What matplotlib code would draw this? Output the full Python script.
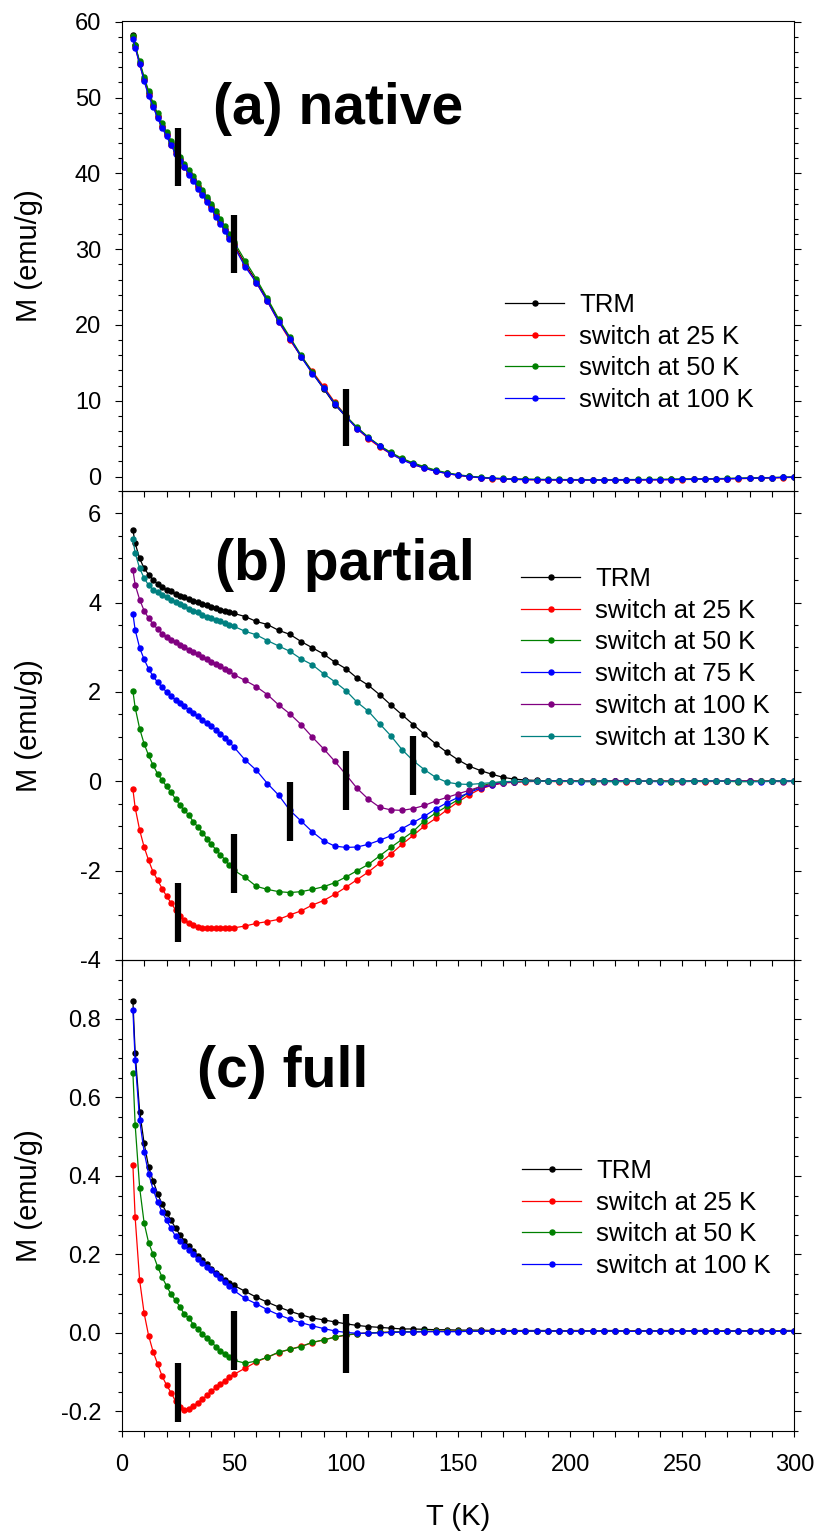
import numpy as np
import matplotlib.pyplot as plt
from matplotlib.ticker import MultipleLocator, FormatStrFormatter

plt.rcParams['font.family'] = ['Liberation Sans', 'DejaVu Sans']
plt.rcParams['axes.unicode_minus'] = False

# temperature grid (K)
T = [5, 6, 8, 10, 12, 14, 16, 18, 20, 22, 24, 26, 28, 30, 32, 34, 36, 38, 40, 42, 44, 46, 48, 50,
     55, 60, 65, 70, 75, 80, 85, 90, 95, 100, 105, 110, 115, 120, 125, 130, 135, 140, 145, 150,
     155, 160, 165, 170,
     175, 180, 185, 190, 195, 200, 205, 210, 215, 220, 225, 230, 235, 240, 245, 250, 255, 260,
     265, 270, 275, 280, 285, 290, 295, 300]

# ---- (a) native ----
a_trm = [58.3, 56.9, 54.6, 52.5, 50.6, 49.0, 47.6, 46.3, 45.2, 44.0, 42.9, 41.9, 41.0, 40.1, 39.3, 38.4, 37.5, 36.6, 35.7, 34.7, 33.7, 32.7, 31.7, 30.7,
         28.1, 25.8, 23.3, 20.6, 18.2, 15.8, 13.7, 11.6, 9.5, 7.9, 6.4, 5.1, 4.0, 3.1, 2.3, 1.7, 1.2, 0.78, 0.45, 0.2, 0.02, -0.12, -0.22, -0.29,
         -0.34, -0.37, -0.39, -0.41, -0.42, -0.43, -0.43, -0.44, -0.43, -0.43, -0.42, -0.41, -0.40, -0.39, -0.37, -0.35, -0.33, -0.31, -0.29, -0.26, -0.23, -0.20, -0.17, -0.14, -0.10, -0.06]
a_25 = [58.0, 56.7, 54.4, 52.3, 50.4, 48.9, 47.4, 46.1, 45.0, 43.8, 42.7, 41.7, 40.8, 39.9, 39.1, 38.2, 37.3, 36.4, 35.5, 34.5, 33.5, 32.5, 31.5, 30.5,
        27.9, 25.6, 23.1, 20.4, 18.0, 15.9, 13.9, 11.9, 9.8, 8.0, 6.3, 5.0, 3.9, 3.0, 2.3, 1.6, 1.1, 0.72, 0.40, 0.16, -0.02, -0.16, -0.26, -0.33,
        -0.38, -0.41, -0.43, -0.45, -0.46, -0.47, -0.47, -0.48, -0.48, -0.47, -0.46, -0.45, -0.44, -0.42, -0.41, -0.39, -0.37, -0.35, -0.33, -0.30, -0.28, -0.25, -0.22, -0.18, -0.14, -0.10]
a_50 = [58.1, 56.9, 54.8, 52.7, 50.9, 49.3, 47.9, 46.6, 45.5, 44.3, 43.2, 42.2, 41.3, 40.4, 39.6, 38.7, 37.8, 36.9, 36.0, 35.0, 34.0, 33.0, 32.0, 31.0,
        28.5, 26.1, 23.5, 20.8, 18.4, 16.0, 13.8, 11.7, 9.7, 8.0, 6.5, 5.2, 4.1, 3.2, 2.4, 1.8, 1.3, 0.85, 0.50, 0.25, 0.06, -0.08, -0.18, -0.25,
        -0.30, -0.33, -0.35, -0.37, -0.38, -0.39, -0.39, -0.40, -0.40, -0.39, -0.39, -0.38, -0.37, -0.36, -0.34, -0.32, -0.30, -0.28, -0.26, -0.24, -0.21, -0.18, -0.15, -0.12, -0.09, -0.05]
a_100 = [57.7, 56.6, 54.4, 52.2, 50.2, 48.8, 47.3, 46.0, 44.9, 43.7, 42.6, 41.6, 40.8, 39.8, 39.0, 38.0, 37.2, 36.2, 35.3, 34.3, 33.3, 32.4, 31.4, 30.4,
         27.7, 25.6, 23.1, 20.4, 18.2, 15.8, 13.6, 11.7, 9.6, 7.9, 6.3, 5.1, 4.0, 3.0, 2.2, 1.6, 1.1, 0.70, 0.40, 0.18, 0.0, -0.14, -0.24, -0.31,
         -0.36, -0.39, -0.41, -0.43, -0.44, -0.45, -0.45, -0.46, -0.45, -0.45, -0.44, -0.43, -0.42, -0.41, -0.39, -0.37, -0.35, -0.33, -0.31, -0.28, -0.25, -0.22, -0.19, -0.15, -0.11, -0.07]

# ---- (b) partial ----
b_trm = [5.63, 5.33, 4.99, 4.77, 4.63, 4.51, 4.42, 4.34, 4.29, 4.25, 4.19, 4.16, 4.12, 4.08, 4.04, 4.01, 3.97, 3.94, 3.91, 3.87, 3.84, 3.81, 3.79, 3.76,
         3.69, 3.58, 3.51, 3.38, 3.29, 3.13, 2.99, 2.85, 2.67, 2.52, 2.31, 2.15, 1.94, 1.71, 1.49, 1.27, 1.05, 0.84, 0.65, 0.48, 0.34, 0.24, 0.16, 0.09,
         0.05, 0.03, 0.02, 0.01, 0.01, 0.01, 0.01, 0.00, 0.01, 0.00, 0.01, 0.00, 0.00, 0.01, 0.00, 0.00, 0.01, 0.00, 0.00, 0.00, 0.01, 0.00, 0.00, 0.01, 0.00, 0.00]
b_25 = [-0.18, -0.59, -1.09, -1.47, -1.77, -2.03, -2.21, -2.40, -2.57, -2.72, -2.88, -3.02, -3.11, -3.17, -3.22, -3.26, -3.28, -3.29, -3.29, -3.29, -3.29, -3.29, -3.29, -3.28,
        -3.24, -3.18, -3.14, -3.09, -2.99, -2.90, -2.77, -2.67, -2.53, -2.37, -2.20, -2.03, -1.83, -1.63, -1.41, -1.21, -1.00, -0.83, -0.64, -0.46, -0.30, -0.17, -0.09, -0.04,
        -0.02, -0.01, 0.00, 0.00, -0.01, 0.00, 0.00, 0.01, 0.00, 0.00, -0.01, 0.00, 0.00, 0.00, 0.01, 0.00, 0.00, -0.01, 0.00, 0.00, 0.00, 0.01, 0.00, 0.00, 0.00, 0.00]
b_50 = [2.02, 1.65, 1.18, 0.84, 0.58, 0.36, 0.17, 0.02, -0.11, -0.25, -0.39, -0.54, -0.65, -0.76, -0.91, -1.02, -1.15, -1.28, -1.41, -1.53, -1.65, -1.75, -1.88, -1.99,
        -2.15, -2.35, -2.42, -2.47, -2.49, -2.47, -2.42, -2.36, -2.27, -2.14, -2.00, -1.86, -1.67, -1.48, -1.30, -1.12, -0.88, -0.71, -0.56, -0.41, -0.24, -0.11, -0.04, -0.01,
        -0.01, 0.00, 0.00, 0.01, 0.00, 0.00, 0.00, -0.01, 0.00, 0.01, 0.00, 0.00, 0.00, 0.00, -0.01, 0.00, 0.00, 0.01, 0.00, 0.00, -0.01, 0.00, 0.00, 0.00, 0.01, 0.00]
b_75 = [3.75, 3.39, 2.99, 2.73, 2.52, 2.35, 2.22, 2.11, 2.00, 1.91, 1.82, 1.75, 1.68, 1.59, 1.53, 1.46, 1.38, 1.30, 1.23, 1.15, 1.07, 0.98, 0.88, 0.77,
        0.48, 0.25, -0.05, -0.31, -0.65, -0.89, -1.13, -1.33, -1.45, -1.48, -1.47, -1.41, -1.32, -1.22, -1.06, -0.92, -0.78, -0.62, -0.48, -0.36, -0.25, -0.15, -0.08, -0.03,
        -0.01, 0.00, 0.00, 0.00, 0.01, 0.00, -0.01, 0.00, 0.00, 0.00, 0.01, 0.00, 0.00, -0.01, 0.00, 0.00, 0.00, 0.00, 0.01, 0.00, 0.00, 0.00, -0.01, 0.00, 0.00, 0.01]
b_100 = [4.73, 4.40, 4.07, 3.82, 3.65, 3.52, 3.41, 3.30, 3.23, 3.17, 3.11, 3.05, 3.00, 2.95, 2.89, 2.84, 2.78, 2.73, 2.68, 2.63, 2.58, 2.52, 2.47, 2.39,
         2.26, 2.12, 1.94, 1.71, 1.51, 1.27, 0.99, 0.73, 0.45, 0.15, -0.16, -0.40, -0.58, -0.64, -0.65, -0.61, -0.54, -0.44, -0.36, -0.28, -0.20, -0.12, -0.07, -0.03,
         -0.01, 0.00, 0.00, 0.00, 0.00, 0.01, 0.00, 0.00, -0.01, 0.00, 0.00, 0.01, 0.00, 0.00, 0.00, -0.01, 0.00, 0.00, 0.00, 0.01, 0.00, 0.00, 0.00, 0.00, -0.01, 0.00]
b_130 = [5.42, 5.11, 4.77, 4.55, 4.39, 4.29, 4.23, 4.17, 4.12, 4.07, 4.02, 3.97, 3.92, 3.86, 3.82, 3.78, 3.73, 3.69, 3.66, 3.61, 3.58, 3.55, 3.51, 3.47,
         3.36, 3.28, 3.15, 3.03, 2.91, 2.74, 2.61, 2.41, 2.23, 2.03, 1.77, 1.57, 1.29, 1.02, 0.71, 0.46, 0.26, 0.09, -0.02, -0.06, -0.07, -0.05, -0.03, -0.01,
         0.00, 0.00, 0.01, 0.00, 0.00, 0.00, 0.00, 0.01, 0.00, -0.01, 0.00, 0.00, 0.01, 0.00, 0.00, 0.00, 0.00, 0.00, 0.01, 0.00, 0.00, -0.01, 0.00, 0.00, 0.01, 0.00]

# ---- (c) full ----
c_trm = [0.846, 0.713, 0.564, 0.483, 0.423, 0.387, 0.355, 0.328, 0.306, 0.287, 0.267, 0.250, 0.234, 0.221, 0.209, 0.196, 0.185, 0.175, 0.163, 0.153, 0.144, 0.135, 0.128, 0.121,
         0.106, 0.091, 0.078, 0.066, 0.055, 0.046, 0.038, 0.033, 0.028, 0.023, 0.019, 0.016, 0.014, 0.012, 0.010, 0.010, 0.009, 0.008, 0.008, 0.007, 0.007, 0.007, 0.006, 0.006,
         0.006, 0.006, 0.006, 0.006, 0.005, 0.006, 0.006, 0.005, 0.006, 0.006, 0.005, 0.006, 0.005, 0.006, 0.006, 0.005, 0.006, 0.006, 0.005, 0.006, 0.005, 0.006, 0.006, 0.005, 0.006, 0.006]
c_25 = [0.427, 0.294, 0.134, 0.050, -0.007, -0.048, -0.079, -0.110, -0.133, -0.152, -0.174, -0.190, -0.196, -0.193, -0.186, -0.178, -0.169, -0.159, -0.149, -0.139, -0.130, -0.122, -0.113, -0.106,
        -0.090, -0.074, -0.062, -0.050, -0.042, -0.034, -0.025, -0.018, -0.011, -0.006, -0.002, 0.000, 0.001, 0.002, 0.003, 0.003, 0.003, 0.004, 0.004, 0.004, 0.004, 0.005, 0.005, 0.004,
        0.004, 0.005, 0.004, 0.005, 0.004, 0.005, 0.005, 0.004, 0.005, 0.004, 0.005, 0.005, 0.004, 0.005, 0.004, 0.005, 0.004, 0.005, 0.005, 0.004, 0.005, 0.004, 0.005, 0.004, 0.005, 0.005]
c_50 = [0.662, 0.530, 0.370, 0.280, 0.230, 0.200, 0.169, 0.142, 0.120, 0.098, 0.083, 0.066, 0.047, 0.037, 0.021, 0.009, -0.003, -0.014, -0.024, -0.035, -0.045, -0.054, -0.062, -0.070,
        -0.077, -0.072, -0.062, -0.049, -0.042, -0.035, -0.024, -0.018, -0.011, -0.005, -0.002, 0.000, 0.001, 0.002, 0.003, 0.003, 0.004, 0.004, 0.004, 0.004, 0.005, 0.005, 0.004, 0.005,
        0.005, 0.004, 0.005, 0.005, 0.004, 0.005, 0.004, 0.005, 0.005, 0.004, 0.005, 0.004, 0.005, 0.005, 0.004, 0.005, 0.005, 0.004, 0.005, 0.004, 0.005, 0.005, 0.004, 0.005, 0.004, 0.005]
c_100 = [0.822, 0.694, 0.542, 0.461, 0.406, 0.365, 0.334, 0.308, 0.287, 0.266, 0.246, 0.234, 0.221, 0.210, 0.200, 0.188, 0.178, 0.168, 0.159, 0.149, 0.140, 0.130, 0.120, 0.108,
         0.088, 0.074, 0.059, 0.046, 0.035, 0.026, 0.018, 0.011, 0.005, 0.001, -0.001, -0.001, 0.000, 0.001, 0.002, 0.002, 0.003, 0.003, 0.003, 0.003, 0.004, 0.004, 0.004, 0.004,
         0.004, 0.004, 0.005, 0.004, 0.005, 0.004, 0.004, 0.005, 0.004, 0.005, 0.004, 0.004, 0.005, 0.004, 0.004, 0.005, 0.004, 0.005, 0.004, 0.004, 0.005, 0.004, 0.005, 0.004, 0.004, 0.005]

# switch markers: temperature, centre, half length
bars_a = ([25, 50, 100], [42.2, 30.7, 7.8], 3.8)
bars_b = ([25, 50, 75, 100, 130], [-2.93, -1.85, -0.67, 0.01, 0.35], 0.66)
bars_c = ([25, 50, 100], [-0.153, -0.020, -0.027], 0.075)

W, H = 820, 1531
fig = plt.figure(figsize=(W / 100, H / 100), dpi=100)

def fx(px):
    return px / W

def fy(py):
    return 1 - py / H

left, right = 121.7, 794.5
rows = [(21, 491), (491, 960), (960, 1431)]
axes = []
for top, bot in rows:
    ax = fig.add_axes([fx(left), fy(bot), (right - left) / W, (bot - top) / H])
    ax.patch.set_visible(False)
    axes.append(ax)

panels = [
    ([a_trm, a_25, a_50, a_100],
     ['TRM', 'switch at 25 K', 'switch at 50 K', 'switch at 100 K'],
     ['black', 'red', 'green', 'blue'], bars_a),
    ([b_trm, b_25, b_50, b_75, b_100, b_130],
     ['TRM', 'switch at 25 K', 'switch at 50 K', 'switch at 75 K', 'switch at 100 K', 'switch at 130 K'],
     ['black', 'red', 'green', 'blue', 'purple', 'teal'], bars_b),
    ([c_trm, c_25, c_50, c_100],
     ['TRM', 'switch at 25 K', 'switch at 50 K', 'switch at 100 K'],
     ['black', 'red', 'green', 'blue'], bars_c),
]

for ax, (curves, labels, colors, bars) in zip(axes, panels):
    for m, lab, col in zip(curves, labels, colors):
        ax.plot(T, m, '-o', color=col, lw=0.9, ms=3.6, mec=col, label=lab)
    bt, bm, bh = bars
    for t, mid in zip(bt, bm):
        ax.plot([t, t], [mid - bh, mid + bh], color='black', lw=4.5,
                solid_capstyle='butt', zorder=5)

ylims = [(-1.9, 60.1), (-4, 6.5), (-0.25, 0.95)]
ymaj = [10, 2, 0.2]
ymin = [2, 0.5, 0.05]
yfmt = ['%d', '%d', '%.1f']
for ax, yl, mj, mn, fm in zip(axes, ylims, ymaj, ymin, yfmt):
    ax.set_xlim(0, 300)
    ax.set_ylim(*yl)
    ax.xaxis.set_major_locator(MultipleLocator(50))
    ax.xaxis.set_minor_locator(MultipleLocator(10))
    ax.yaxis.set_major_locator(MultipleLocator(mj))
    ax.yaxis.set_minor_locator(MultipleLocator(mn))
    ax.yaxis.set_major_formatter(FormatStrFormatter(fm))
    ax.tick_params(which='both', direction='out', right=True, top=False,
                   width=0.8, labelsize=17, pad=10)
    ax.tick_params(axis='x', which='both', pad=12)
    ax.tick_params(axis='y', which='major', length=4.8)
    ax.tick_params(axis='y', which='minor', length=3.1)
    ax.tick_params(axis='x', which='both', length=4.3)
    for s in ax.spines.values():
        s.set_linewidth(0.8)
    ax.set_ylabel('M (emu/g)', fontsize=21)
    ax.yaxis.set_label_coords(-0.1165, 0.5)

axes[0].tick_params(labelbottom=False)
axes[1].tick_params(labelbottom=False)
axes[2].set_xlabel('T (K)', fontsize=21, labelpad=20)

leg_pos = [(505, 293), (521, 567), (522, 1159)]
for ax, (lx, ly) in zip(axes, leg_pos):
    ax.legend(loc='upper left', bbox_to_anchor=(fx(lx), fy(ly)),
              bbox_transform=fig.transFigure, frameon=False, fontsize=18.5,
              handlelength=2.3, handletextpad=0.58, labelspacing=0.3,
              borderpad=0, borderaxespad=0)

titles = [('(a) native', 213, 124), ('(b) partial', 215, 580), ('(c) full', 197, 1087)]
for txt, tx, ty in titles:
    fig.text(fx(tx), fy(ty), txt, fontsize=41, fontweight='bold', va='baseline')

fig.savefig('out.png', dpi=100)
